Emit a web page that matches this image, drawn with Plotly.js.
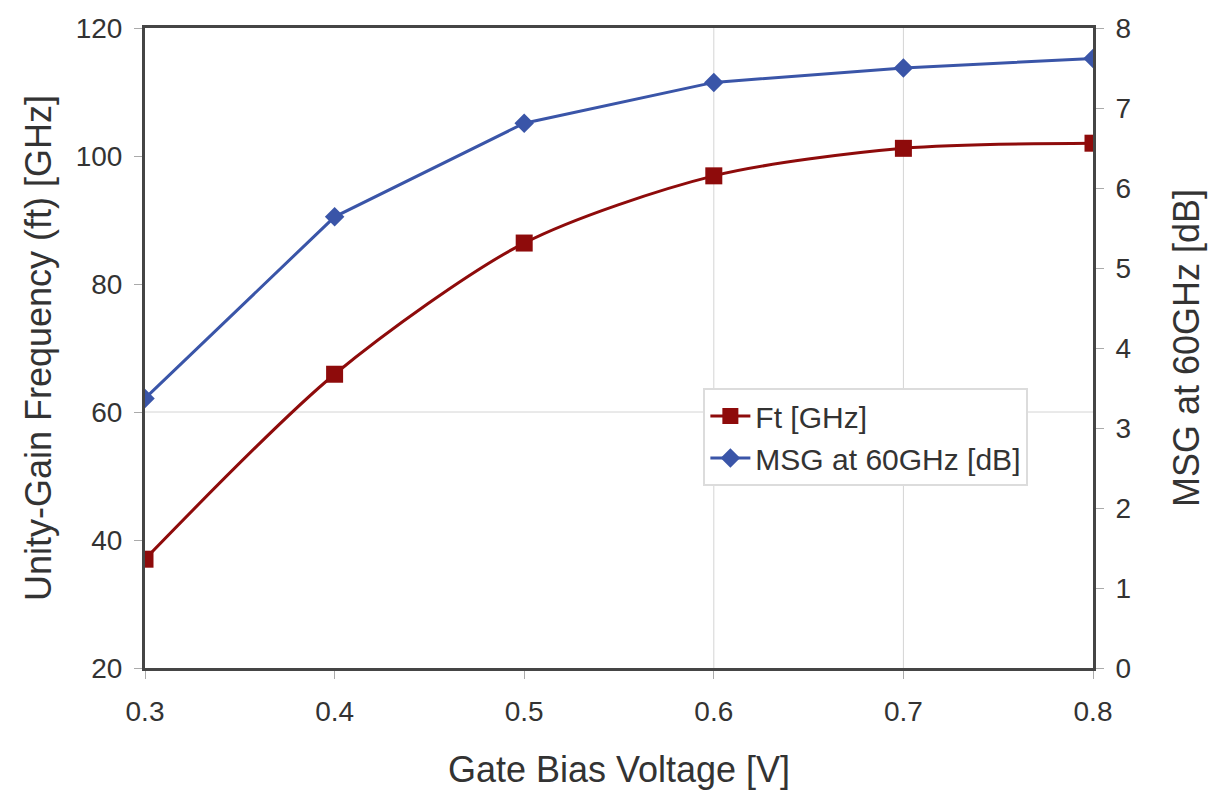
<!DOCTYPE html>
<html><head><meta charset="utf-8">
<script src="https://cdn.plot.ly/plotly-3.0.1.min.js"></script>
<style>html,body{margin:0;padding:0;background:#fff;}</style>
</head><body>
<div id="chart" style="width:1210px;height:791px;"></div>
<script>
const gateBias = [0.3, 0.4, 0.5, 0.6, 0.7, 0.8];
const ftGHz = [37.0, 65.9, 86.4, 96.9, 101.2, 102.0];
const msgDB = [3.37, 5.64, 6.81, 7.32, 7.50, 7.62];
const xTicks = [0.3, 0.4, 0.5, 0.6, 0.7, 0.8];
const yLeftTicks = [20, 40, 60, 80, 100, 120];
const yRightTicks = [0, 1, 2, 3, 4, 5, 6, 7, 8];

const font = 'Liberation Sans, Arial, sans-serif';
const traces = [
  {x: gateBias, y: ftGHz, name: 'Ft [GHz]', type: 'scatter', mode: 'lines+markers',
   line: {color: '#8e0b0b', width: 3, shape: 'spline', smoothing: 0.8},
   marker: {symbol: 'square', size: 17, color: '#8e0b0b'}},
  {x: gateBias, y: msgDB, name: 'MSG at 60GHz [dB]', type: 'scatter', mode: 'lines+markers', yaxis: 'y2',
   line: {color: '#3a55a8', width: 3},
   marker: {symbol: 'diamond', size: 15, color: '#3a55a8'}}
];
const axisCommon = {showline: true, linecolor: '#454545', linewidth: 3, ticks: 'outside', ticklen: 8,
  tickcolor: '#aaa', tickwidth: 1, showgrid: false, zeroline: false,
  tickfont: {family: font, size: 28, color: '#333'}};
const titleFont = {family: font, size: 36, color: '#333'};
const layout = {
  width: 1210, height: 791,
  margin: {l: 145, r: 117, t: 28, b: 123},
  paper_bgcolor: '#fff', plot_bgcolor: '#fff',
  showlegend: true,
  legend: {x: 0.589, y: 0.4375, xanchor: 'left', yanchor: 'top', bgcolor: '#fff',
    bordercolor: '#dcdcdc', borderwidth: 2, font: {family: font, size: 30, color: '#333'},
    tracegroupgap: 2, itemwidth: 40},
  xaxis: Object.assign({}, axisCommon, {range: [0.3, 0.8], tickvals: xTicks, ticktext: xTicks.map(v => v.toFixed(1)),
    mirror: true, ticklabelstandoff: 8,
    title: {text: 'Gate Bias Voltage [V]', font: titleFont, standoff: 32}}),
  yaxis: Object.assign({}, axisCommon, {range: [20, 120], tickvals: yLeftTicks, ticklabelstandoff: 6,
    title: {text: 'Unity-Gain Frequency (ft) [GHz]', font: titleFont, standoff: 14}}),
  yaxis2: Object.assign({}, axisCommon, {range: [0, 8], tickvals: yRightTicks, overlaying: 'y', side: 'right', ticklabelstandoff: 6,
    title: {text: 'MSG at 60GHz [dB]', font: titleFont, standoff: 44}}),
  shapes: [
    {type: 'line', xref: 'x', yref: 'paper', x0: 0.6, x1: 0.6, y0: 0, y1: 1, line: {color: '#d4d4d4', width: 1}, layer: 'below'},
    {type: 'line', xref: 'x', yref: 'paper', x0: 0.7, x1: 0.7, y0: 0, y1: 1, line: {color: '#d4d4d4', width: 1}, layer: 'below'},
    {type: 'line', xref: 'paper', yref: 'y', x0: 0, x1: 1, y0: 60, y1: 60, line: {color: '#d4d4d4', width: 1}, layer: 'below'}
  ]
};
Plotly.newPlot('chart', traces, layout, {displayModeBar: false, staticPlot: true});
</script>
</body></html>
